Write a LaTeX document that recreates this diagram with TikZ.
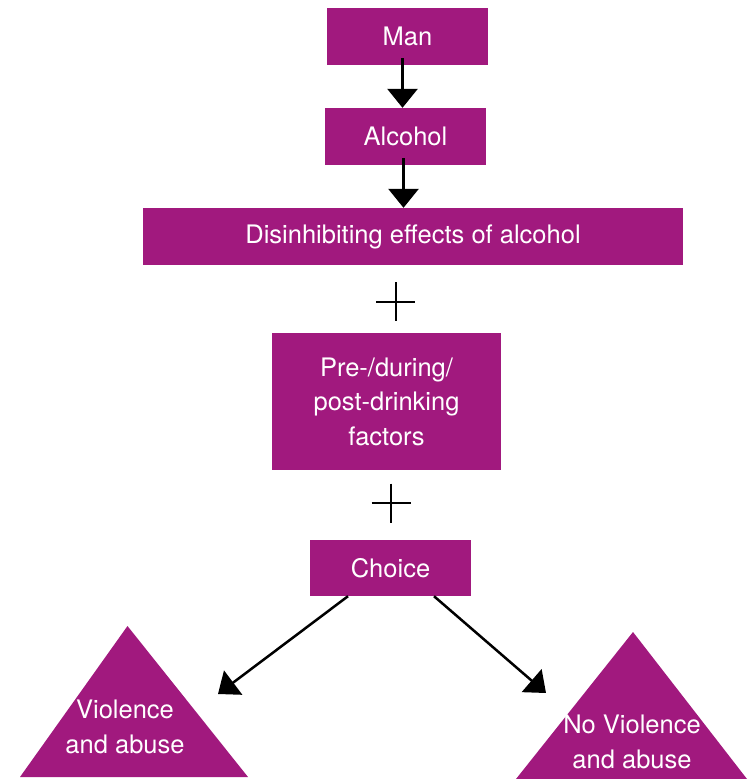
\documentclass[tikz,border=0pt]{standalone}
\usepackage{fontspec}
\setmainfont{TeX Gyre Heros}
\usepackage{xcolor}
\usetikzlibrary{arrows.meta, calc}
\definecolor{plum}{RGB}{161,25,126}

\begin{document}
\begin{tikzpicture}[x=1pt, y=-1pt,
	box/.style={fill=plum, text=white, inner sep=0pt, align=center, font=\fontsize{25.5}{34.5}\selectfont},
	label/.style={text=white, inner sep=0pt, align=center, font=\fontsize{25.5}{34.5}\selectfont},
	arr/.style={-{Triangle[width=30pt, length=19pt]}, line width=3pt},
	plus/.style={line width=2pt}]
	\def\w{161pt};
	\def\h{57pt};
	\def\p{19.5};
	
	\useasboundingbox (0,0) rectangle (747,779);
	
	\node [box, minimum width=\w, minimum height=\h] (man) at (407.5,36.5) {Man};
	\node [box, minimum width=\w, minimum height=\h] (alcohol) at (405.5,136.5) {Alcohol};
	\node [box, minimum width=540pt, minimum height=\h] (disinhib) at (413,236.5) {Disinhibiting effects of alcohol};
	\node [box, minimum width=229pt, minimum height=137pt] (factors) at (386.5,401.5) {Pre-/during/\\post-drinking\\factors};
	\node [box, minimum width=\w, minimum height=56pt] (choice) at (390.5,568) {Choice};
	
	\draw [arr] ($(man.south)+(-5,-7)$) -- ($(alcohol.north)+(-3,0)$);
	\draw [arr] ($(alcohol.south)+(-2,-7)$) -- ($(alcohol.south |- disinhib.north)+(-2,0)$);
	
	\coordinate (plusA) at (395.5,301.5);
	\coordinate (plusB) at (391,503);
	\draw [plus] ($(plusA)+(-\p,0)$) -- ($(plusA)+(\p,0)$);
	\draw [plus] ($(plusA)+(0,-\p)$) -- ($(plusA)+(0,\p)$);
	\draw [plus] ($(plusB)+(-\p,0)$) -- ($(plusB)+(\p,0)$);
	\draw [plus] ($(plusB)+(0,-\p)$) -- ($(plusB)+(0,\p)$);
	
	\fill [plum] (20,777) -- (127.5,626) -- (248,777) -- cycle;
	\fill [plum] (516,779) -- (633,632) -- (747,779) -- cycle;
	\node [label] (violence) at (125,727) {Violence\\and abuse};
	\node [label] (noviolence) at (632,742) {No Violence\\and abuse};
	
	\coordinate (tipA) at (218,694);
	\coordinate (tipB) at (546,693);
	\draw [arr, line width=2.5pt] ($(choice.south)+(-42.5,0)$) -- (tipA);
	\draw [arr, line width=2.5pt] ($(choice.south)+(43.5,0)$) -- (tipB);
\end{tikzpicture}
\end{document}
